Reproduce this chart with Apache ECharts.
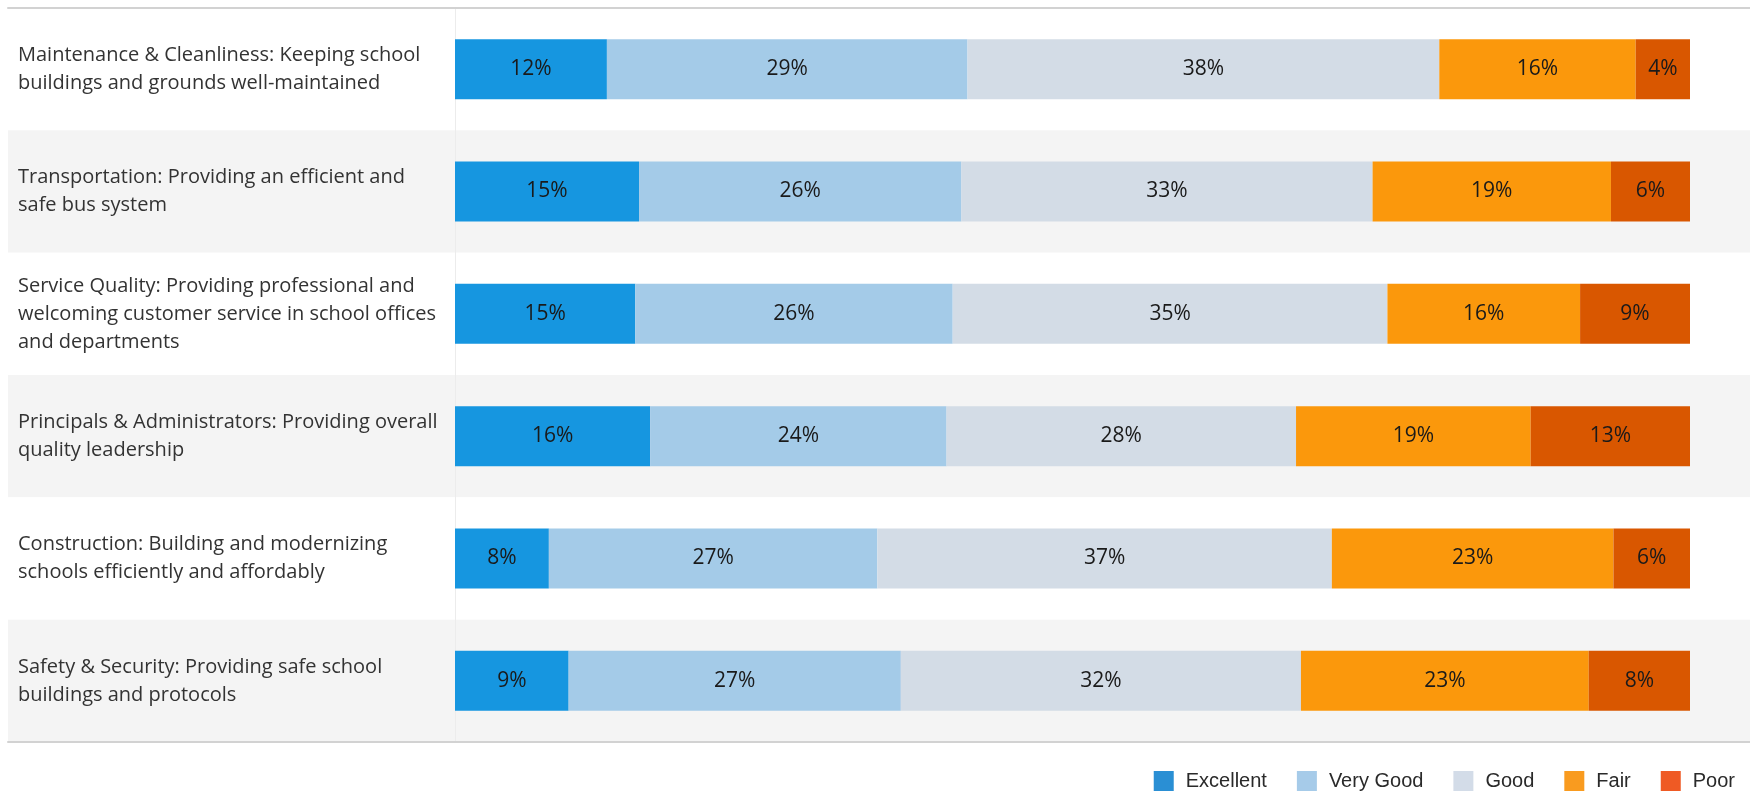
<!DOCTYPE html>
<html>
<head>
<meta charset="utf-8">
<script src="https://cdn.jsdelivr.net/npm/echarts@6/dist/echarts.min.js"></script>
<style>
html,body{margin:0;padding:0;background:#fff;}
#chart{width:1750px;height:791px;}
</style>
</head>
<body>
<div id="chart"></div>
<script>
const categories = [
  "Maintenance & Cleanliness: Keeping school\nbuildings and grounds well-maintained",
  "Transportation: Providing an efficient and\nsafe bus system",
  "Service Quality: Providing professional and\nwelcoming customer service in school offices\nand departments",
  "Principals & Administrators: Providing overall\nquality leadership",
  "Construction: Building and modernizing\nschools efficiently and affordably",
  "Safety & Security: Providing safe school\nbuildings and protocols"
];
const seriesNames = ["Excellent", "Very Good", "Good", "Fair", "Poor"];
const excellent = [12.3, 14.9, 14.6, 15.8, 7.6, 9.2];
const veryGood  = [29.2, 26.1, 25.7, 24.0, 26.6, 26.9];
const good      = [38.2, 33.3, 35.2, 28.3, 36.8, 32.4];
const fair      = [15.9, 19.3, 15.6, 19.0, 22.8, 23.3];
const poor      = [4.4, 6.4, 8.9, 12.9, 6.2, 8.2];

const barColors = ["#1696e0", "#a4cbe8", "#d3dce6", "#fb980c", "#d95700"];
const legendColors = ["#2a8fd4", "#a6cbe9", "#d3dce8", "#f99b1f", "#ef5a24"];
const allValues = [excellent, veryGood, good, fair, poor];

const font = "'Open Sans', sans-serif";
const chart = echarts.init(document.getElementById('chart'));

const series = seriesNames.map((name, i) => ({
  name: name,
  type: 'bar',
  stack: 'total',
  xAxisIndex: 2,
  yAxisIndex: 1,
  barWidth: 60,
  data: allValues[i],
  itemStyle: { color: barColors[i] },
  label: {
    show: true,
    position: 'inside',
    color: '#1a1a1a',
    fontSize: 21,
    fontFamily: font,
    formatter: p => Math.round(p.value) + '%'
  },
  emphasis: { disabled: true }
}));

const hiddenValAxis = (pos) => ({
  gridIndex: 0, type: 'value', min: 0, max: 1, position: pos, show: true,
  axisLine: { show: true, lineStyle: { color: '#d2d2d2', width: 2 } },
  axisTick: { show: false }, axisLabel: { show: false }, splitLine: { show: false }
});

chart.setOption({
  animation: false,
  backgroundColor: '#ffffff',
  grid: [
    { left: 8, right: 0, top: 8, bottom: 49 },
    { left: 455, right: 60, top: 8, bottom: 49 }
  ],
  legend: {
    right: 10,
    top: 766,
    itemWidth: 20,
    itemHeight: 21,
    itemGap: 30,
    icon: 'rect',
    selectedMode: false,
    textStyle: { fontFamily: "'Liberation Sans', Arial, sans-serif", fontSize: 20, color: '#2a2a2a', padding: [0, 0, 0, 7] },
    data: seriesNames.map((n, i) => ({ name: n, itemStyle: { color: legendColors[i] } }))
  },
  xAxis: [
    hiddenValAxis('top'),
    hiddenValAxis('bottom'),
    { gridIndex: 1, type: 'value', min: 0, max: 100, show: false }
  ],
  yAxis: [
    { gridIndex: 0, type: 'category', inverse: true, data: categories,
      axisLine: { show: false }, axisTick: { show: false },
      splitArea: { show: true, areaStyle: { color: ['#ffffff', '#f4f4f4'] } },
      axisLabel: { inside: true, margin: 10, color: '#333', fontSize: 20, fontFamily: font, lineHeight: 28, align: 'left' } },
    { gridIndex: 1, type: 'category', inverse: true, data: categories,
      axisLine: { show: true, lineStyle: { color: '#ececec', width: 1 } },
      axisTick: { show: false }, axisLabel: { show: false } }
  ],
  series: series.concat([{
    type: 'bar', xAxisIndex: 0, yAxisIndex: 0, data: [], silent: true
  }])
});
</script>
</body>
</html>
